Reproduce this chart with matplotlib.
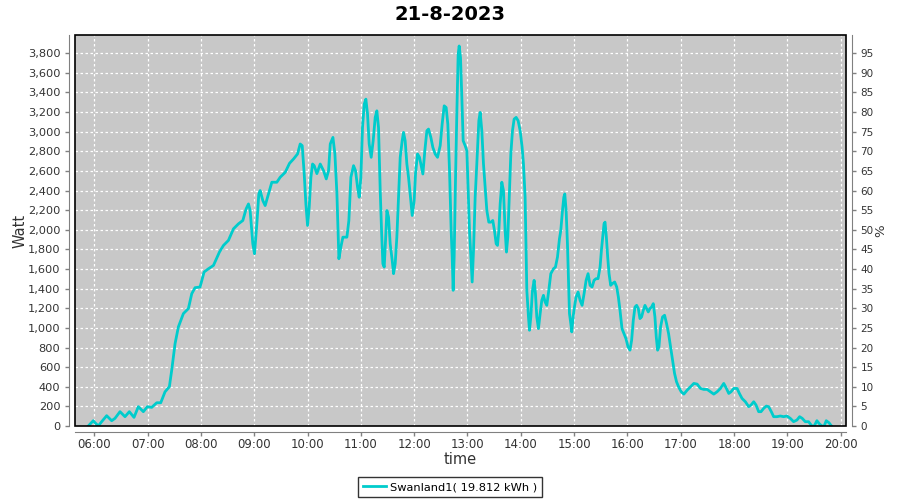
import numpy as np
import matplotlib
matplotlib.use("Agg")
import matplotlib.pyplot as plt
from matplotlib.patches import Rectangle
from matplotlib.ticker import FuncFormatter

# time of day in hours, power in watt
hours = [
    5.887, 5.981, 6.013, 6.075, 6.138, 6.232, 6.326, 6.388, 6.482, 6.576,
    6.657, 6.745, 6.826, 6.920, 6.995, 7.077, 7.171, 7.246, 7.327, 7.408,
    7.452, 7.515, 7.577, 7.671, 7.765, 7.828, 7.890, 7.984, 8.059, 8.141,
    8.235, 8.347, 8.423, 8.516, 8.610, 8.704, 8.786, 8.848, 8.892, 8.923,
    8.973, 9.005, 9.049, 9.086, 9.111, 9.161, 9.205, 9.268, 9.330, 9.424,
    9.487, 9.581, 9.662, 9.737, 9.812, 9.862, 9.900, 9.937, 9.969, 10.000,
    10.031, 10.063, 10.094, 10.125, 10.175, 10.238, 10.300, 10.351, 10.394, 10.426,
    10.476, 10.513, 10.551, 10.588, 10.625, 10.663, 10.738, 10.775, 10.813, 10.863,
    10.900, 10.938, 10.969, 11.000, 11.031, 11.063, 11.094, 11.125, 11.156, 11.194,
    11.231, 11.269, 11.300, 11.331, 11.363, 11.388, 11.413, 11.438, 11.463, 11.488,
    11.519, 11.550, 11.588, 11.613, 11.644, 11.675, 11.706, 11.738, 11.775, 11.800,
    11.831, 11.863, 11.894, 11.925, 11.963, 12.000, 12.025, 12.063, 12.100, 12.138,
    12.163, 12.200, 12.238, 12.269, 12.313, 12.350, 12.394, 12.438, 12.488, 12.525,
    12.563, 12.600, 12.631, 12.663, 12.694, 12.713, 12.731, 12.750, 12.775, 12.800,
    12.825, 12.844, 12.869, 12.894, 12.919, 12.956, 12.988, 13.013, 13.038, 13.063,
    13.088, 13.113, 13.144, 13.175, 13.213, 13.238, 13.269, 13.300, 13.331, 13.363,
    13.400, 13.438, 13.475, 13.506, 13.538, 13.563, 13.588, 13.613, 13.644, 13.675,
    13.706, 13.731, 13.756, 13.788, 13.813, 13.844, 13.875, 13.913, 13.950, 13.988,
    14.025, 14.050, 14.081, 14.113, 14.144, 14.163, 14.188, 14.219, 14.250, 14.275,
    14.300, 14.331, 14.363, 14.394, 14.425, 14.456, 14.488, 14.525, 14.563, 14.613,
    14.650, 14.688, 14.725, 14.750, 14.782, 14.807, 14.825, 14.850, 14.875, 14.894,
    14.913, 14.938, 14.956, 14.981, 15.006, 15.037, 15.075, 15.112, 15.150, 15.187,
    15.225, 15.262, 15.299, 15.337, 15.374, 15.412, 15.449, 15.487, 15.512, 15.537,
    15.561, 15.580, 15.605, 15.630, 15.655, 15.686, 15.717, 15.761, 15.799, 15.830,
    15.861, 15.898, 15.936, 15.973, 16.011, 16.048, 16.079, 16.110, 16.142, 16.173,
    16.204, 16.235, 16.266, 16.298, 16.329, 16.360, 16.391, 16.422, 16.454, 16.485,
    16.516, 16.541, 16.566, 16.591, 16.622, 16.659, 16.697, 16.734, 16.772, 16.809,
    16.847, 16.884, 16.921, 16.965, 17.009, 17.059, 17.121, 17.183, 17.246, 17.308,
    17.371, 17.433, 17.495, 17.558, 17.620, 17.682, 17.745, 17.807, 17.857, 17.901,
    17.944, 17.994, 18.057, 18.100, 18.150, 18.213, 18.275, 18.319, 18.369, 18.412,
    18.462, 18.506, 18.556, 18.606, 18.649, 18.699, 18.743, 18.805, 18.868, 18.930,
    18.992, 19.055, 19.117, 19.180, 19.230, 19.279, 19.336, 19.398, 19.460, 19.504,
    19.554, 19.604, 19.648, 19.691, 19.729, 19.779, 19.828,
]
watt = [
    0, 54, 34, 0, 44, 105, 54, 78, 146, 95,
    146, 88, 197, 146, 197, 190, 237, 237, 349, 400,
    569, 840, 1010, 1146, 1197, 1349, 1410, 1417, 1570, 1603,
    1637, 1773, 1841, 1892, 2010, 2061, 2095, 2214, 2264, 2197,
    1858, 1756, 2061, 2366, 2400, 2298, 2247, 2366, 2485, 2485,
    2536, 2586, 2678, 2722, 2773, 2875, 2858, 2573, 2264, 2044,
    2230, 2536, 2671, 2654, 2573, 2671, 2603, 2519, 2603, 2875,
    2942, 2773, 2366, 1705, 1824, 1925, 1925, 2095, 2536, 2654,
    2603, 2434, 2332, 2536, 3044, 3281, 3332, 3180, 2875, 2739,
    2908, 3146, 3213, 3044, 2400, 1993, 1654, 1620, 1892, 2197,
    2129, 1858, 1688, 1553, 1654, 1925, 2332, 2739, 2908, 2993,
    2908, 2671, 2536, 2366, 2146, 2298, 2569, 2773, 2739, 2637,
    2569, 2807, 3010, 3027, 2942, 2841, 2773, 2739, 2858, 3078,
    3264, 3247, 3078, 2603, 1993, 1722, 1383, 1722, 2502, 3180,
    3790, 3874, 3756, 3349, 2908, 2858, 2807, 2400, 1993, 1722,
    1468, 1790, 2332, 2671, 3112, 3197, 3010, 2671, 2434, 2197,
    2078, 2078, 2095, 1993, 1858, 1841, 1993, 2264, 2485, 2400,
    1993, 1773, 1925, 2400, 2773, 3010, 3129, 3146, 3112, 3010,
    2841, 2671, 2332, 1383, 1112, 976, 1112, 1383, 1485, 1349,
    1112, 993, 1146, 1281, 1332, 1264, 1230, 1383, 1553, 1603,
    1620, 1722, 1908, 1993, 2197, 2332, 2366, 2197, 1858, 1519,
    1146, 1044, 959, 1112, 1213, 1315, 1366, 1281, 1230, 1349,
    1485, 1553, 1434, 1417, 1485, 1502, 1502, 1620, 1790, 1925,
    2061, 2078, 1925, 1722, 1553, 1434, 1451, 1468, 1417, 1315,
    1180, 993, 942, 890, 807, 773, 875, 1078, 1213, 1230,
    1197, 1095, 1112, 1180, 1230, 1197, 1163, 1197, 1213, 1247,
    1112, 908, 773, 807, 1010, 1112, 1129, 1044, 942, 807,
    671, 536, 451, 393, 349, 325, 366, 400, 434, 427,
    383, 373, 373, 349, 325, 349, 383, 434, 383, 332,
    349, 383, 383, 332, 281, 247, 197, 214, 247, 214,
    146, 146, 180, 203, 197, 146, 95, 95, 102, 95,
    102, 78, 44, 61, 95, 78, 44, 44, 0, 0,
    54, 20, 0, 0, 54, 34, 0,
]

hour_ticks = list(range(6, 21))
watt_ticks = list(range(0, 3801, 200))
pct_ticks = list(range(0, 96, 5))
series_label = "Swanland1( 19.812 kWh )"
title = "21-8-2023"

plt.rcParams['font.family'] = ['DejaVu Sans']

fig = plt.figure(figsize=(9, 5), dpi=100)
fig.patch.set_facecolor('white')
ax = fig.add_axes([75 / 900, 1 - 426 / 500, 771 / 900, 391 / 500])
ax.set_facecolor('#c8c8c8')

line, = ax.plot(hours, watt, color='#00cccc', linewidth=2, label=series_label)

ax.set_xlim(5.638, 20.100)
ax.set_ylim(0, 3986)
ax.set_xticks(hour_ticks)
ax.xaxis.set_major_formatter(FuncFormatter(lambda v, p: f"{int(v):02d}:00"))
ax.set_yticks(watt_ticks)
ax.yaxis.set_major_formatter(FuncFormatter(lambda v, p: f"{int(v):,}"))
ax.grid(True, color='white', linestyle=(0, (2, 2)), linewidth=0.9)
ax.set_axisbelow(True)

for s in ('top', 'right'):
    ax.spines[s].set_visible(False)
for s in ('left', 'bottom'):
    ax.spines[s].set_position(('outward', 4))
    ax.spines[s].set_color('#808080')
ax.tick_params(axis='both', colors='#808080', labelcolor='#333333',
               labelsize=8.2, length=3, width=1, direction='out')
ax.tick_params(axis='x', pad=1.5, labelsize=8.5)
ax.add_patch(Rectangle((0, 0), 1, 1, transform=ax.transAxes, fill=False,
                       edgecolor='black', linewidth=1.2, clip_on=False, zorder=5))

ax.set_xlabel('time', fontsize=10.5, color='#333333', labelpad=1)
ax.set_ylabel('Watt', fontsize=10.5, color='#333333', labelpad=0)

# right-hand percentage axis
ax2 = ax.twinx()
ax2.set_ylim(0, 3986 / 40)
ax2.set_yticks(pct_ticks)
for s in ('top', 'left', 'bottom'):
    ax2.spines[s].set_visible(False)
ax2.spines['right'].set_position(('outward', 4))
ax2.spines['right'].set_color('#808080')
ax2.tick_params(axis='y', colors='#808080', labelcolor='#333333',
                labelsize=7.5, length=3, width=1)
ax2.set_ylabel('%', fontsize=9.5, color='#333333', labelpad=0)

fig.text(0.5, 1 - 14 / 500, title, ha='center', va='center',
         fontsize=14, fontweight='bold')

leg = fig.legend(handles=[line], loc='center', bbox_to_anchor=(0.5, 1 - 487 / 500),
                 fontsize=8.2, frameon=True, fancybox=False, handlelength=2,
                 borderpad=0.4, handletextpad=0.4)
leg.get_frame().set_edgecolor('black')
leg.get_frame().set_linewidth(1)

plt.savefig('out.png', dpi=100, facecolor='white')
plt.close()
